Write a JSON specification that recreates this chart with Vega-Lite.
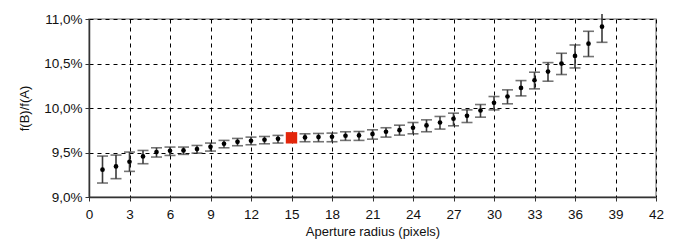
{
  "$schema": "https://vega.github.io/schema/vega-lite/v6.json",
  "width": 567,
  "height": 178,
  "autosize": {"type": "none"},
  "padding": {"left": 89, "top": 19, "right": 26, "bottom": 47},
  "background": "white",
  "config": {
    "view": {"stroke": "#999999", "strokeWidth": 1.5},
    "font": "Liberation Sans",
    "axis": {
      "labelFont": "Liberation Sans",
      "titleFont": "Liberation Sans",
      "labelFontSize": 13.5,
      "titleFontSize": 13,
      "titleFontWeight": "normal",
      "labelColor": "#111111",
      "titleColor": "#111111",
      "domainColor": "#333333",
      "domainWidth": 1.5,
      "tickColor": "#333333",
      "tickSize": 4,
      "gridColor": "#000000",
      "gridDash": [4, 4],
      "gridWidth": 1,
      "gridOpacity": 1
    }
  },
  "data": {
    "values": [
      {"x": 1, "y": 9.307, "lo": 9.157, "hi": 9.46},
      {"x": 2, "y": 9.344, "lo": 9.206, "hi": 9.471},
      {"x": 3, "y": 9.396, "lo": 9.288, "hi": 9.505},
      {"x": 4, "y": 9.456, "lo": 9.374, "hi": 9.523},
      {"x": 5, "y": 9.505, "lo": 9.449, "hi": 9.553},
      {"x": 6, "y": 9.52, "lo": 9.467, "hi": 9.561},
      {"x": 7, "y": 9.523, "lo": 9.479, "hi": 9.561},
      {"x": 8, "y": 9.538, "lo": 9.493, "hi": 9.579},
      {"x": 9, "y": 9.564, "lo": 9.516, "hi": 9.606},
      {"x": 10, "y": 9.598, "lo": 9.553, "hi": 9.636},
      {"x": 11, "y": 9.62, "lo": 9.576, "hi": 9.658},
      {"x": 12, "y": 9.632, "lo": 9.587, "hi": 9.673},
      {"x": 13, "y": 9.643, "lo": 9.598, "hi": 9.68},
      {"x": 14, "y": 9.654, "lo": 9.606, "hi": 9.692},
      {"x": 15, "y": 9.665, "lo": null, "hi": null, "ref": true},
      {"x": 16, "y": 9.669, "lo": 9.621, "hi": 9.71},
      {"x": 17, "y": 9.673, "lo": 9.621, "hi": 9.714},
      {"x": 18, "y": 9.677, "lo": 9.621, "hi": 9.718},
      {"x": 19, "y": 9.688, "lo": 9.636, "hi": 9.733},
      {"x": 20, "y": 9.692, "lo": 9.636, "hi": 9.736},
      {"x": 21, "y": 9.707, "lo": 9.65, "hi": 9.755},
      {"x": 22, "y": 9.733, "lo": 9.673, "hi": 9.778},
      {"x": 23, "y": 9.751, "lo": 9.695, "hi": 9.807},
      {"x": 24, "y": 9.778, "lo": 9.71, "hi": 9.837},
      {"x": 25, "y": 9.804, "lo": 9.733, "hi": 9.867},
      {"x": 26, "y": 9.837, "lo": 9.763, "hi": 9.905},
      {"x": 27, "y": 9.879, "lo": 9.8, "hi": 9.942},
      {"x": 28, "y": 9.912, "lo": 9.837, "hi": 9.979},
      {"x": 29, "y": 9.972, "lo": 9.897, "hi": 10.039},
      {"x": 30, "y": 10.058, "lo": 9.979, "hi": 10.129},
      {"x": 31, "y": 10.129, "lo": 10.047, "hi": 10.204},
      {"x": 32, "y": 10.226, "lo": 10.136, "hi": 10.308},
      {"x": 33, "y": 10.312, "lo": 10.215, "hi": 10.402},
      {"x": 34, "y": 10.409, "lo": 10.301, "hi": 10.51},
      {"x": 35, "y": 10.499, "lo": 10.376, "hi": 10.615},
      {"x": 36, "y": 10.585, "lo": 10.45, "hi": 10.708},
      {"x": 37, "y": 10.723, "lo": 10.578, "hi": 10.862},
      {"x": 38, "y": 10.914, "lo": 10.738, "hi": 11.056}
    ]
  },
  "encoding": {
    "x": {
      "field": "x",
      "type": "quantitative",
      "scale": {"domain": [0, 42], "nice": false, "zero": false},
      "axis": {
        "title": "Aperture radius (pixels)",
        "values": [0, 3, 6, 9, 12, 15, 18, 21, 24, 27, 30, 33, 36, 39, 42],
        "labelPadding": 6,
        "titlePadding": 5,
        "labelFlush": false
      }
    }
  },
  "layer": [
    {
      "mark": {"type": "rule", "color": "#3a3a3a", "strokeWidth": 1.6, "clip": false},
      "encoding": {
        "y": {
          "field": "lo",
          "type": "quantitative",
          "scale": {"domain": [9, 11], "nice": false, "zero": false},
          "axis": {
            "title": "f(B)/f(A)",
            "values": [9, 9.5, 10, 10.5, 11],
            "labelExpr": "replace(format(datum.value, '.1f'), '.', ',') + '%'",
            "labelPadding": 3,
            "titlePadding": 12,
            "labelFlush": false
          }
        },
        "y2": {"field": "hi"}
      }
    },
    {
      "mark": {"type": "tick", "orient": "horizontal", "color": "#3a3a3a", "size": 11, "thickness": 1.6},
      "encoding": {"y": {"field": "lo", "type": "quantitative"}}
    },
    {
      "transform": [{"filter": "datum.x < 38"}],
      "mark": {"type": "tick", "orient": "horizontal", "color": "#3a3a3a", "size": 11, "thickness": 1.6},
      "encoding": {"y": {"field": "hi", "type": "quantitative"}}
    },
    {
      "transform": [{"filter": "datum.ref != true"}],
      "mark": {"type": "point", "shape": "circle", "filled": true, "color": "#000000", "opacity": 1, "size": 22},
      "encoding": {"y": {"field": "y", "type": "quantitative"}}
    },
    {
      "transform": [{"filter": "datum.ref == true"}],
      "mark": {"type": "point", "shape": "square", "filled": true, "color": "#e3260b", "opacity": 1, "size": 130},
      "encoding": {"y": {"field": "y", "type": "quantitative"}}
    }
  ]
}
